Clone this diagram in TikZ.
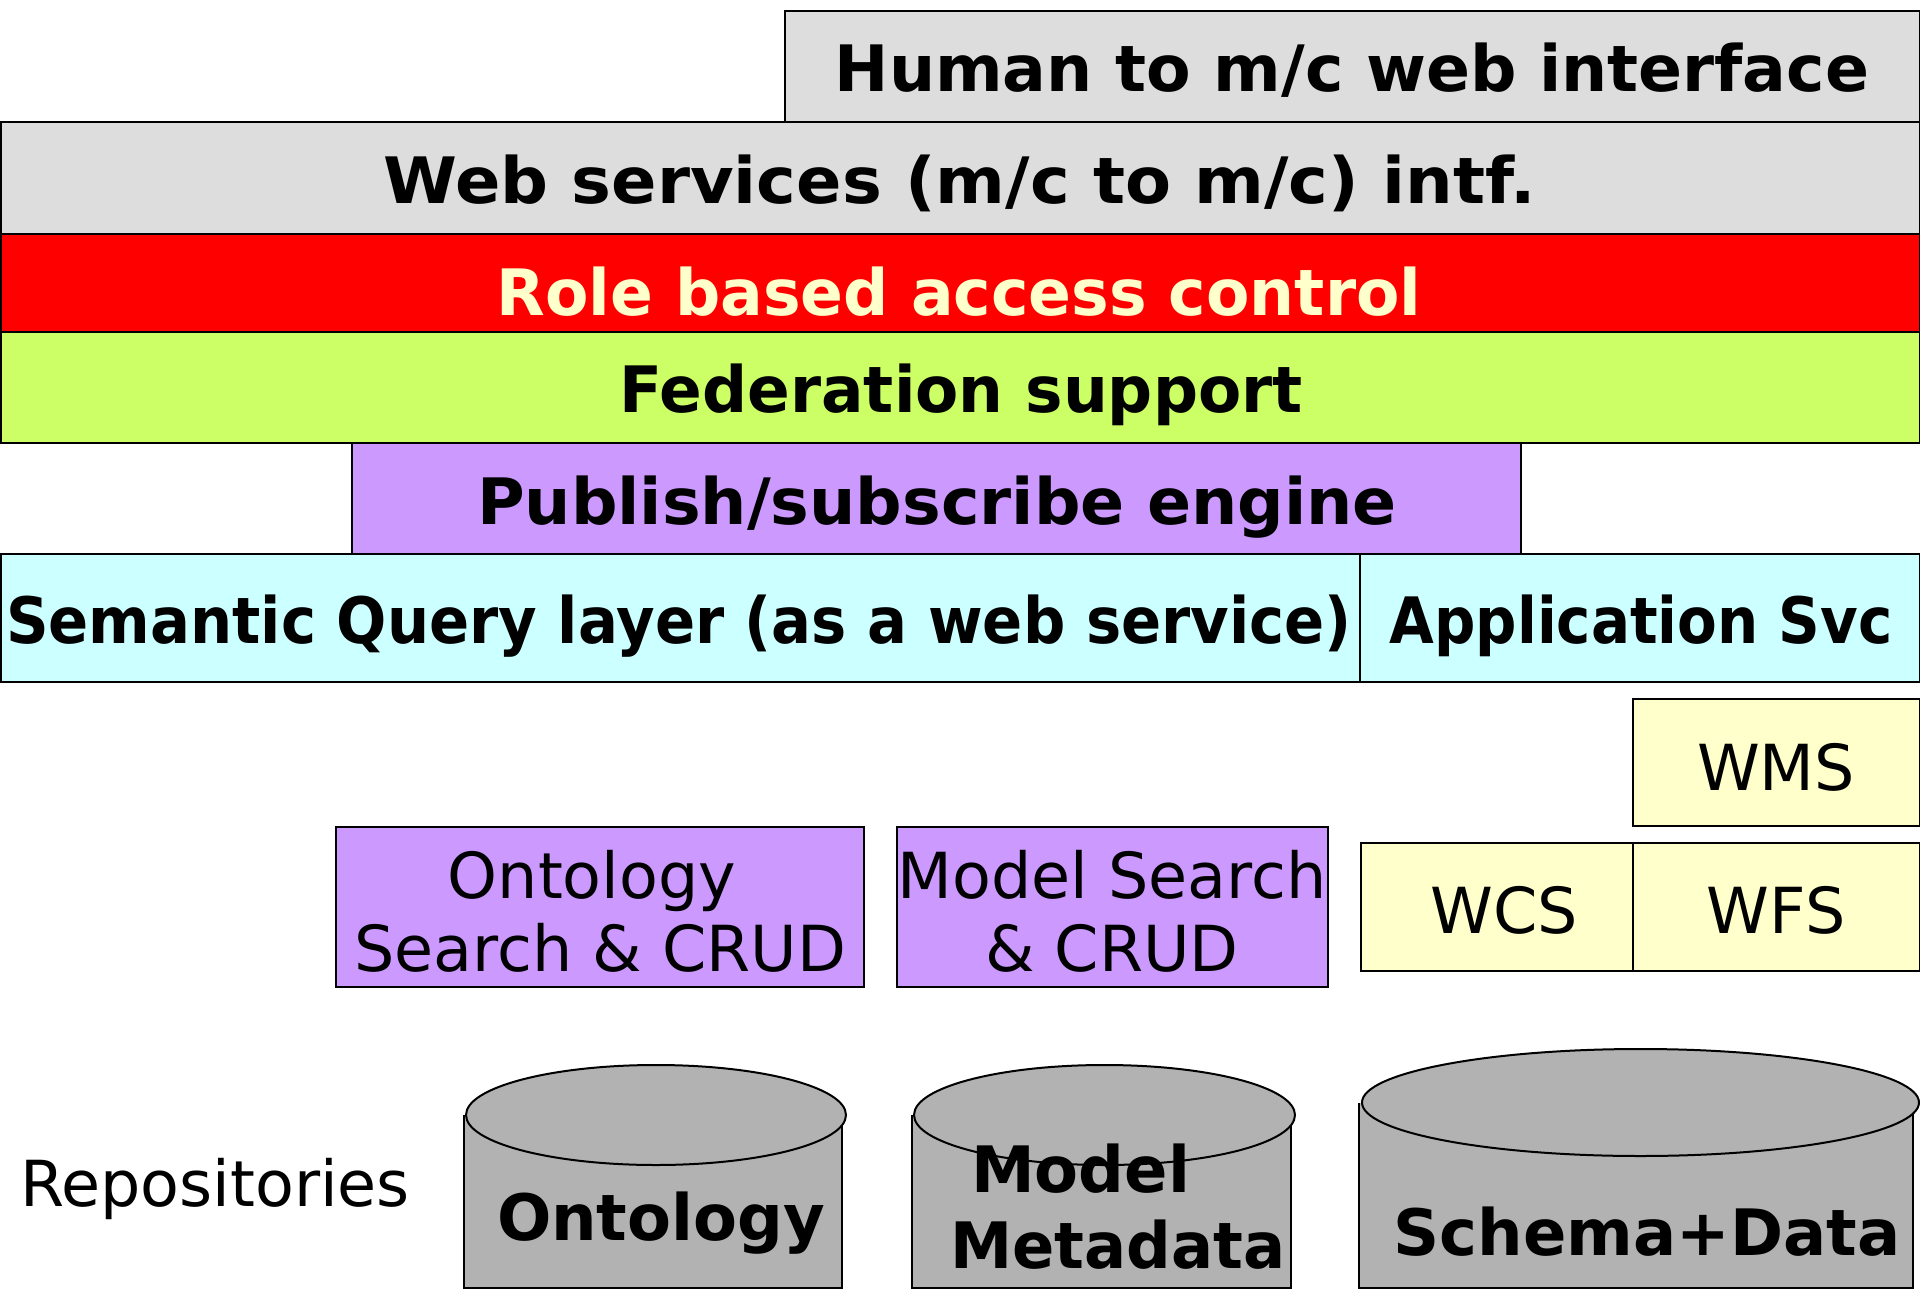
\documentclass[tikz,border=0pt]{standalone}
\usepackage{graphicx}
\usepackage{fontspec}
\setmainfont{DejaVu Sans}
\definecolor{lgray}{HTML}{DDDDDD}
\definecolor{rbac}{HTML}{FF0000}
\definecolor{rbactext}{HTML}{FFFFCC}
\definecolor{fedc}{HTML}{CCFF66}
\definecolor{pubc}{HTML}{CC99FF}
\definecolor{semc}{HTML}{CCFFFF}
\definecolor{ogc}{HTML}{FFFFCC}
\definecolor{cylc}{HTML}{B2B2B2}
\newcommand\hsq[2]{\scalebox{#1}[1]{#2}}
\begin{document}
\begin{tikzpicture}[x=1pt,y=-1pt,
  box/.style={draw=black, line width=2pt, inner sep=0pt, anchor=north west},
  btxt/.style={anchor=base, inner sep=0pt, font=\fontsize{64}{70}\selectfont\bfseries},
  ntxt/.style={anchor=base, inner sep=0pt, font=\fontsize{63.5}{73}\selectfont},
  cyl/.style={fill=cylc, draw=black, line width=2pt},
]
\useasboundingbox (0,0) rectangle (1920,1290);

% layers
\node[box, fill=lgray, minimum width=1135pt, minimum height=111pt] (human) at (784,10) {};
\node[box, fill=lgray, minimum width=1919pt, minimum height=112pt] (web) at (0,121) {};
\node[box, fill=rbac, minimum width=1919pt, minimum height=98pt] (role) at (0,233) {};
\node[box, fill=fedc, minimum width=1919pt, minimum height=111pt] (fed) at (0,331) {};
\node[box, fill=pubc, minimum width=1169pt, minimum height=111pt] (pub) at (351,442) {};
\node[box, fill=semc, minimum width=1359pt, minimum height=128pt] (sem) at (0,553) {};
\node[box, fill=semc, minimum width=560pt, minimum height=128pt] (app) at (1359,553) {};
\node[box, fill=ogc, minimum width=287pt, minimum height=127pt] (wms) at (1632,698) {};
\node[box, fill=ogc, minimum width=272pt, minimum height=128pt] (wcs) at (1360,842) {};
\node[box, fill=ogc, minimum width=287pt, minimum height=128pt] (wfs) at (1632,842) {};
\node[box, fill=pubc, minimum width=528pt, minimum height=160pt] (ont) at (335,826) {};
\node[box, fill=pubc, minimum width=431pt, minimum height=160pt] (mod) at (896,826) {};

% layer texts
\node[btxt] (humant) at (1352,92) {\hsq{1.014}{Human to m/c web interface}};
\node[btxt] (webt) at (960,203) {\hsq{1.047}{Web services (m/c to m/c) intf.}};
\node[btxt, text=rbactext] (rolet) at (959,315) {\hsq{0.988}{Role based access control}};
\node[btxt] (fedt) at (961,412) {\hsq{0.984}{Federation support}};
\node[btxt] (pubt) at (937,524) {\hsq{1.016}{Publish/subscribe engine}};
\node[btxt] (semt) at (679,643) {\hsq{0.925}{Semantic Query layer (as a web service)}};
\node[btxt] (appt) at (1641,643) {\hsq{0.904}{Application Svc}};
\node[ntxt] (wmst) at (1776,790) {WMS};
\node[ntxt] (wcst) at (1504,933) {WCS};
\node[ntxt] (wfst) at (1776,933) {WFS};
\node[ntxt] (ont1) at (592,898) {Ontology};
\node[ntxt] (ont2) at (600,971) {Search \& CRUD};
\node[ntxt] (mod1) at (1112,898) {Model Search};
\node[ntxt] (mod2) at (1112,971) {\& CRUD};
\node[ntxt] (repo) at (215,1206) {Repositories};

% cylinders
\path[cyl] (464,1115) -- (464,1288) -- (842,1288) -- (842,1115);
\path[cyl] (656,1115) ellipse[x radius=190, y radius=50];
\path[cyl] (912,1115) -- (912,1288) -- (1291,1288) -- (1291,1115);
\path[cyl] (1104.5,1115) ellipse[x radius=190.5, y radius=50];
\path[cyl] (1359,1103) -- (1359,1288) -- (1913,1288) -- (1913,1103);
\path[cyl] (1640.5,1102.5) ellipse[x radius=278.5, y radius=53.5];

\node[btxt] (c1t) at (661,1240) {Ontology};
\node[btxt, anchor=base west] (c2a) at (971,1192) {Model};
\node[btxt, anchor=base west] (c2b) at (950,1268) {\hsq{0.975}{Metadata}};
\node[btxt] (c3t) at (1647,1255) {Schema+Data};
\end{tikzpicture}
\end{document}
